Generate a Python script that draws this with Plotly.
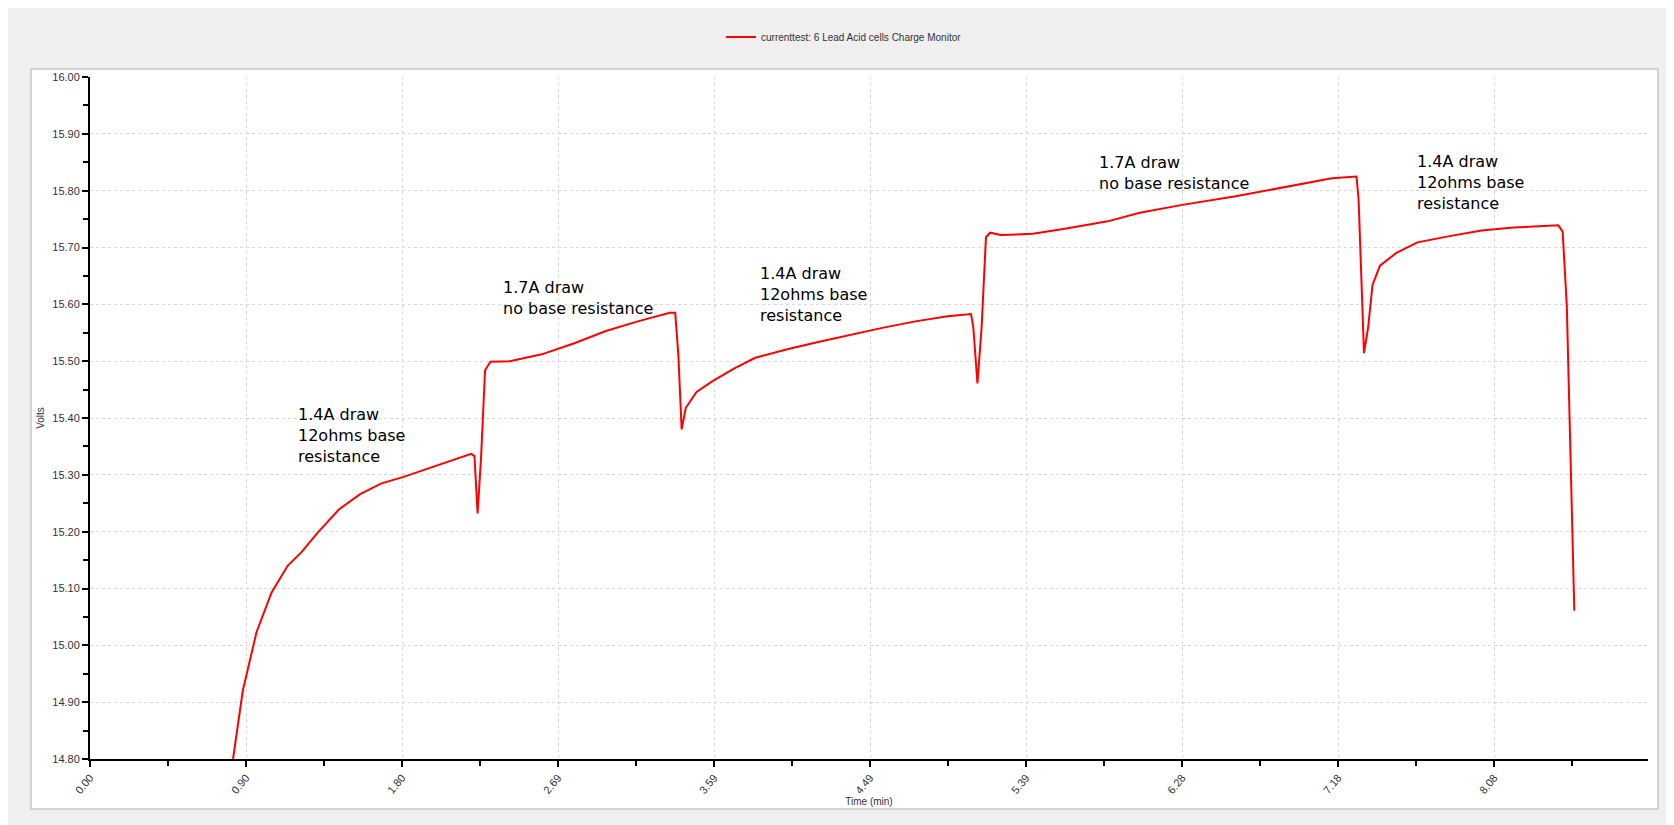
import plotly.graph_objects as go

t = [0.823,0.879,0.958,1.045,1.137,1.217,1.309,1.432,1.554,1.677,1.800,1.984,2.193,2.212,2.230,2.250,2.273,2.304,2.415,2.599,2.783,2.968,3.152,3.336,3.367,3.385,3.404,3.428,3.490,3.582,3.705,3.828,4.012,4.196,4.381,4.565,4.749,4.934,5.069,5.082,5.106,5.130,5.155,5.179,5.241,5.425,5.609,5.855,6.040,6.285,6.592,6.899,7.145,7.287,7.299,7.330,7.354,7.379,7.422,7.514,7.637,7.822,8.006,8.190,8.448,8.473,8.497,8.540]
v = [14.80,14.92,15.023,15.093,15.14,15.164,15.198,15.239,15.266,15.285,15.296,15.315,15.337,15.333,15.232,15.33,15.484,15.499,15.50,15.512,15.531,15.553,15.570,15.585,15.585,15.512,15.38,15.418,15.446,15.465,15.487,15.506,15.521,15.534,15.547,15.559,15.570,15.579,15.583,15.56,15.461,15.56,15.718,15.726,15.722,15.724,15.733,15.746,15.761,15.775,15.79,15.808,15.822,15.825,15.784,15.514,15.56,15.634,15.668,15.69,15.709,15.72,15.730,15.735,15.739,15.728,15.596,15.061]

x_ticks = [0, 0.8976, 1.7952, 2.6928, 3.5904, 4.488, 5.3856, 6.2832, 7.1808, 8.0784]
x_labels = ["0.00","0.90","1.80","2.69","3.59","4.49","5.39","6.28","7.18","8.08"]
notes_x = [1.186, 2.365, 3.846, 5.794, 7.625]
notes_y = [15.427, 15.649, 15.675, 15.869, 15.872]
notes_txt = ["1.4A draw<br>12ohms base<br>resistance", "1.7A draw<br>no base resistance",
             "1.4A draw<br>12ohms base<br>resistance", "1.7A draw<br>no base resistance",
             "1.4A draw<br>12ohms base<br>resistance"]

fig = go.Figure()
fig.add_trace(go.Scatter(x=t, y=v, mode="lines", line=dict(color="#ff0000", width=2),
                         name="currenttest: 6 Lead Acid cells Charge Monitor"))
for xx, yy, tx in zip(notes_x, notes_y, notes_txt):
    fig.add_annotation(x=xx, y=yy, text=tx, showarrow=False, xanchor="left", yanchor="top",
                       align="left", font=dict(size=16, color="black", family="DejaVu Sans"))

W, H = 1674, 825
L, R, T, B = 82, 34, 69, 74
pw, ph = W - L - R, H - T - B
def px(x): return (x - L) / pw
def py(y): return (H - B - y) / ph
fig.add_shape(type="rect", xref="paper", yref="paper", x0=px(23), x1=px(1650), y0=py(801), y1=py(61),
              line=dict(color="#c8c8c8", width=1.5), fillcolor="white", layer="below")

axis_common = dict(showline=True, linecolor="black", linewidth=2, ticks="outside", tickcolor="black",
                   ticklen=6, tickwidth=2, showgrid=True, gridcolor="#d8d8d8", griddash="dot",
                   gridwidth=1, zeroline=False, tickfont=dict(size=11, color="#333", family="Liberation Sans"),
                   title_font=dict(size=10, color="#333", family="Liberation Sans"))
fig.update_xaxes(range=[0, 8.964], tickvals=x_ticks, ticktext=x_labels, tickangle=-50,
                 title_text="Time (min)", title_standoff=2,
                 minor=dict(tickvals=[a + 0.4488 for a in x_ticks], ticks="outside", ticklen=5,
                            tickcolor="black", tickwidth=2, showgrid=False), **axis_common)
fig.update_yaxes(range=[14.8, 16.0], dtick=0.1, tickformat=".2f", title_text="Volts", title_standoff=6,
                 minor=dict(dtick=0.05, ticks="outside", ticklen=5, tickcolor="black", tickwidth=2,
                            showgrid=False), **axis_common)
fig.update_layout(width=W, height=H, margin=dict(l=L, r=R, t=T, b=B), paper_bgcolor="#efefef",
                  plot_bgcolor="white", showlegend=True,
                  legend=dict(orientation="h", x=px(836), xanchor="center", y=py(29), yanchor="middle",
                              bgcolor="rgba(0,0,0,0)", font=dict(size=10, color="#333", family="Liberation Sans")))
fig.write_html("out.html")
